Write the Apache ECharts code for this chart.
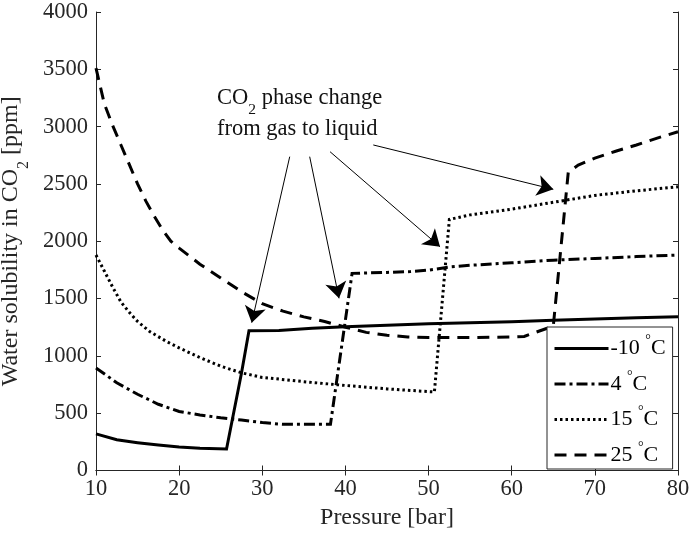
<!DOCTYPE html>
<html><head><meta charset="utf-8">
<script src="https://cdn.jsdelivr.net/npm/echarts@6/dist/echarts.min.js"></script>
<style>html,body{margin:0;padding:0;background:#fff}#c{width:689px;height:535px}</style>
</head><body><div id="c"></div>
<script>
// ---- data ----
const seriesNames = ['-10', '4', '15', '25'];

const pM10 = [10, 12.5, 15, 17.5, 20, 22.5, 25.7, 27.5, 28.4, 32, 36, 40, 45, 50, 55, 60, 65, 70, 75, 80];
const sM10 = [320, 268, 243, 222, 205, 195, 188, 850, 1220, 1222, 1240, 1255, 1268, 1280, 1290, 1298, 1310, 1322, 1333, 1342];

const p4 = [10, 12.5, 15, 17.5, 20, 22.5, 25, 27.5, 30, 32.5, 38.2, 40.8, 45, 47.8, 50, 52.5, 55, 60, 65, 70, 75, 80];
const s4 = [895, 765, 665, 578, 515, 485, 460, 440, 418, 403, 403, 1720, 1728, 1735, 1748, 1775, 1790, 1812, 1835, 1850, 1866, 1880];

const p15 = [10, 11, 12, 13, 14, 15, 16.5, 18.5, 20, 22.5, 25, 27.5, 30, 35, 40, 45, 50.7, 52.5, 55, 60, 65, 70, 75, 80];
const s15 = [1880, 1740, 1600, 1470, 1380, 1300, 1210, 1125, 1070, 985, 910, 852, 812, 775, 742, 712, 685, 2190, 2230, 2280, 2340, 2400, 2440, 2475];

const p25 = [10, 11, 12, 13, 14, 15, 16, 17, 18, 19, 20, 22.5, 25, 27.5, 30, 32.5, 35, 37.5, 40, 42.5, 45, 47.5, 50, 55, 60, 61.5, 65, 66.8, 68, 70, 72.5, 75, 77.5, 80];
const s25 = [3510, 3200, 3010, 2840, 2670, 2500, 2350, 2220, 2100, 2000, 1940, 1800, 1680, 1560, 1455, 1390, 1340, 1300, 1250, 1205, 1180, 1165, 1160, 1160, 1165, 1170, 1260, 2600, 2665, 2725, 2785, 2840, 2900, 2955];

// annotation arrows (data coordinates: start -> end)
const arrowStarts = [[33.3, 2738], [35.7, 2738], [38.15, 2781], [43.35, 2840]];
const arrowEnds   = [[28.73, 1290], [39.23, 1502], [51.38, 1952], [65.0, 2453]];

const xMin = 10, xMax = 80, xStep = 10;
const yMin = 0, yMax = 4000, yStep = 500;

// ---- chart ----
const FONT = 'Liberation Serif';
const AX = '#262626';
const chart = echarts.init(document.getElementById('c'), null, {renderer: 'canvas'});

const styles = [
  {type: 'solid', width: 3},
  {type: [11, 4, 3, 4], width: 3},
  {type: [2.5, 3], width: 3},
  {type: [12, 8], width: 3}
];
const pairs = [[pM10, sM10], [p4, s4], [p15, s15], [p25, s25]];

const series = seriesNames.map((n, i) => ({
  name: n,
  type: 'line',
  data: pairs[i][0].map((x, k) => [x, pairs[i][1][k]]),
  symbol: 'none',
  showSymbol: false,
  lineStyle: {color: '#000', width: styles[i].width, type: styles[i].type, cap: 'butt', join: 'miter'},
  itemStyle: {color: '#000'},
  animation: false,
  z: 3
}));

series[0].markLine = {
  silent: true,
  animation: false,
  symbol: ['none', 'arrow'],
  symbolSize: 16,
  lineStyle: {color: '#000', width: 1, type: 'solid'},
  label: {show: false},
  emphasis: {disabled: true},
  data: arrowStarts.map((s, i) => [{coord: s}, {coord: arrowEnds[i]}])
};

const axisCommon = {
  type: 'value',
  axisLine: {show: true, lineStyle: {color: AX, width: 1}},
  axisTick: {show: true, inside: true, length: 5, lineStyle: {color: AX}},
  splitLine: {show: false},
};
const plain = v => String(v);

chart.setOption({
  animation: false,
  backgroundColor: '#fff',
  grid: {left: 96, right: 11, top: 12, bottom: 64.5, containLabel: false, outerBoundsMode: 'none'},
  xAxis: [
    Object.assign({}, axisCommon, {
      min: xMin, max: xMax, interval: xStep, position: 'bottom',
      axisLabel: {color: AX, fontFamily: FONT, fontSize: 22.5, margin: 7, formatter: plain},
      name: 'Pressure [bar]', nameLocation: 'middle', nameGap: 32,
      nameTextStyle: {color: AX, fontFamily: FONT, fontSize: 24}
    }),
    Object.assign({}, axisCommon, {
      min: xMin, max: xMax, interval: xStep, position: 'top',
      axisLabel: {show: false}
    })
  ],
  yAxis: [
    Object.assign({}, axisCommon, {
      min: yMin, max: yMax, interval: yStep, position: 'left',
      axisLabel: {color: AX, fontFamily: FONT, fontSize: 22.5, margin: 8, formatter: plain},
      name: 'Water solubility in CO{sub|2} [ppm]', nameLocation: 'middle', nameGap: 61, nameRotate: 90,
      nameTextStyle: {color: AX, fontFamily: FONT, fontSize: 24, lineHeight: 26,
        rich: {sub: {fontFamily: FONT, fontSize: 16, color: AX, lineHeight: 26, verticalAlign: 'bottom', padding: [0, 0, -8, 0]}}}
    }),
    Object.assign({}, axisCommon, {
      min: yMin, max: yMax, interval: yStep, position: 'right',
      axisLabel: {show: false}
    })
  ],
  legend: {
    show: true,
    orient: 'vertical',
    left: 547, top: 327,
    padding: [6.5, 7, 3, 6],
    itemGap: 9.5,
    itemWidth: 54, itemHeight: 14,
    backgroundColor: '#fff',
    borderColor: AX, borderWidth: 1, borderRadius: 0,
    data: seriesNames,
    selectedMode: false,
    itemStyle: {color: 'rgba(0,0,0,0)', borderColor: 'rgba(0,0,0,0)', borderWidth: 0},
    lineStyle: {width: 3},
    formatter: n => n + ' {deg|°}C',
    textStyle: {color: '#000', fontFamily: FONT, fontSize: 22, lineHeight: 22, padding: [0, 0, 0, -3],
      rich: {deg: {fontFamily: FONT, fontSize: 14, lineHeight: 22, verticalAlign: 'top', padding: [-4, 0, 0, 0]}}}
  },
  graphic: [{
    type: 'text', left: 217, top: 83, silent: true,
    style: {
      text: 'CO{sub|2} phase change\nfrom gas to liquid',
      font: '22.5px "Liberation Serif"', fill: '#111', lineHeight: 31,
      rich: {sub: {font: '15.5px "Liberation Serif"', fill: '#111', lineHeight: 31, verticalAlign: 'bottom', padding: [0, 0, -4, 0]}}
    }
  }],
  series: series
});
</script>
</body></html>
